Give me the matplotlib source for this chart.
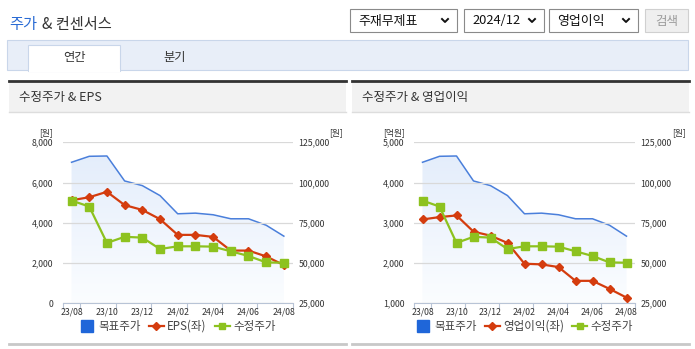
import numpy as np
import matplotlib
matplotlib.use("Agg")
import matplotlib.pyplot as plt
from matplotlib.patches import Rectangle, Polygon
from matplotlib.lines import Line2D
from matplotlib.colors import LinearSegmentedColormap

plt.rcParams['font.family'] = ['Noto Sans CJK KR', 'DejaVu Sans']

# data
months = ['23/08', '23/09', '23/10', '23/11', '23/12', '24/01', '24/02',
          '24/03', '24/04', '24/05', '24/06', '24/07', '24/08']
target_price = [112600, 116300, 116500, 101000, 98100, 91900, 80600,
                81000, 80000, 77500, 77500, 73500, 66700]
adj_price = [88800, 85100, 62500, 66300, 65800, 58700, 60400,
             60400, 60200, 57300, 54400, 50400, 50200]
eps = [5120, 5270, 5540, 4880, 4640, 4180, 3400, 3400, 3300, 2620, 2620, 2330, 1900]
op_profit = [3083, 3142, 3183, 2780, 2680, 2500, 1983, 1967, 1900, 1558, 1558, 1358, 1142]

W, H = 695, 349
BLUE = '#4a7fdb'
BLUE_SQ = '#1f66d9'
RED = '#d43c0e'
GREEN = '#8dc21f'
TXT = '#333333'

fig = plt.figure(figsize=(W / 100, H / 100), dpi=100)

# background / page decoration in pixel coords
bg = fig.add_axes([0, 0, 1, 1], zorder=-5)
bg.set_xlim(0, W)
bg.set_ylim(H, 0)
bg.axis('off')

bg.text(9, 25, '주가', color='#2a6bd4', fontsize=11, va='center', ha='left')
bg.text(42, 25, '& 컨센서스', color=TXT, fontsize=11, va='center', ha='left')

# dropdowns
for x0, x1, label in [(350, 457, '주재무제표'), (464, 544, '2024/12'), (549, 638, '영업이익')]:
    bg.add_patch(Rectangle((x0, 9), x1 - x0, 23, facecolor='white', edgecolor='#8a8a8a', lw=0.8))
    bg.text(x0 + 8, 21, label, fontsize=9.3, color='#111111', va='center', ha='left')
    ax_ = x1 - 12
    bg.plot([ax_ - 3, ax_, ax_ + 3], [19, 22, 19], color='#111111', lw=1.4)
bg.add_patch(Rectangle((645, 9), 43, 23, facecolor='#efefef', edgecolor='#d0d0d0', lw=0.8))
bg.text(666.5, 21, '검색', fontsize=9, color='#9a9a9a', va='center', ha='center')

# tab band
bg.add_patch(Rectangle((7, 40), 681, 30, facecolor='#e8eef8', edgecolor='#c9d6ea', lw=0.8))
bg.add_patch(Rectangle((28, 45), 92, 26, facecolor='white', edgecolor='#c9d6ea', lw=0.8))
bg.add_patch(Rectangle((28.5, 69), 91, 3, facecolor='white', edgecolor='none'))
bg.text(74, 57.5, '연간', fontsize=8.8, color=TXT, va='center', ha='center')
bg.text(175, 57.5, '분기', fontsize=8.8, color=TXT, va='center', ha='center')

# panels
for x0, x1, title in [(9, 346, '수정주가 & EPS'), (352, 689, '수정주가 & 영업이익')]:
    bg.add_patch(Rectangle((x0, 81), x1 - x0, 31, facecolor='#f2f2f2', edgecolor='none'))
    bg.plot([x0, x1], [81, 81], color='#333333', lw=2)
    bg.plot([x0, x1], [112, 112], color='#dddddd', lw=1)
    bg.plot([x0, x1], [343.5, 343.5], color='#c8c8c8', lw=2)
    bg.text(x0 + 10, 97, title, fontsize=9, color=TXT, va='center', ha='left')

cmap = LinearSegmentedColormap.from_list('g', ['#fbfdff', '#e2ecfb'])
x = np.arange(len(months))


def make_chart(left_px, width_px, left_vals, left_lim, left_ticks, left_unit, red_label, unit_pos):
    rect = [left_px / W, 1 - 303.3 / H, width_px / W, 161 / H]
    axb = fig.add_axes(rect)
    ax = axb.twinx()
    axf = axb.twinx()
    axb.set_zorder(1)
    ax.set_zorder(2)
    axf.set_zorder(3)

    # target price with gradient fill
    grad = np.linspace(0, 1, 256).reshape(-1, 1)
    im = axb.imshow(grad, extent=[-0.5, 12.5, 25000, 125000], origin='lower',
                    aspect='auto', cmap=cmap, zorder=1)
    poly = Polygon(list(zip(x, target_price)) + [(x[-1], 25000), (x[0], 25000)],
                   closed=True, transform=axb.transData, facecolor='none', edgecolor='none')
    axb.add_patch(poly)
    im.set_clip_path(poly)
    axb.plot(x, target_price, color=BLUE, lw=1.1, zorder=3)
    axb.set_xlim(-0.5, 12.5)
    axb.set_ylim(25000, 125000)

    # left series
    ax.plot(x, left_vals, color=RED, lw=1.6, marker='D', markersize=4.2, zorder=3)
    ax.set_ylim(*left_lim)
    ax.set_yticks(left_ticks)
    ax.yaxis.tick_left()
    ax.yaxis.set_label_position('left')
    ax.grid(axis='y', color='#d9d9d9', lw=0.9)
    ax.set_axisbelow(True)

    # adjusted price
    axf.plot(x, adj_price, color=GREEN, lw=1.6, marker='s', markersize=6, zorder=3)
    axf.set_ylim(25000, 125000)
    axf.set_yticks([25000, 50000, 75000, 100000, 125000])
    axf.set_yticklabels(['{:,}'.format(v) for v in [25000, 50000, 75000, 100000, 125000]])

    for a in (axb, ax, axf):
        for s in a.spines.values():
            s.set_visible(False)
        a.patch.set_visible(False)
        a.set_xlim(-0.5, 12.5)
    axb.spines['bottom'].set_visible(True)
    axb.spines['bottom'].set_color('#b8c4d6')

    ax.set_yticklabels(['{:,}'.format(v) for v in left_ticks])
    ax.tick_params(axis='y', length=0, pad=7, labelsize=6.3, labelcolor=TXT)
    axf.tick_params(axis='y', length=0, pad=4, labelsize=6.3, labelcolor=TXT)
    axb.tick_params(axis='y', left=False, labelleft=False, right=False, labelright=False)
    for a in (ax, axf):
        a.tick_params(axis='x', bottom=False, labelbottom=False)

    axb.set_xticks([-0.5, 0.5, 2.5, 4.5, 6.5, 8.5, 10.5, 12.5])
    axb.set_xticks(x[::2], minor=True)
    axb.set_xticklabels([])
    axb.set_xticklabels(months[::2], minor=True)
    axb.tick_params(axis='x', which='major', length=4, color='#b8c4d6', direction='out')
    axb.tick_params(axis='x', which='minor', length=0, pad=3, labelsize=6.3, labelcolor=TXT)

    # unit labels
    ax.text(unit_pos[0], 1.03, left_unit, transform=ax.transAxes, fontsize=6.3,
            color=TXT, ha='right', va='bottom')
    ax.text(unit_pos[1], 1.03, '[원]', transform=ax.transAxes, fontsize=6.3,
            color=TXT, ha='left', va='bottom')

    # legend
    handles = [
        Line2D([], [], color=BLUE_SQ, marker='s', linestyle='none', markersize=8),
        Line2D([], [], color=RED, marker='D', markersize=4, lw=1.6),
        Line2D([], [], color=GREEN, marker='s', markersize=5, lw=1.6),
    ]
    cx = (left_px + width_px / 2) / W
    fig.legend(handles, ['목표주가', red_label, '수정주가'], loc='center',
               bbox_to_anchor=(cx, 1 - 326.5 / H), ncol=3, frameon=False,
               fontsize=8.3, handlelength=1.3, handletextpad=0.3, columnspacing=0.7,
               labelcolor='#444444')


make_chart(62.7, 230, eps, (0, 8000), [0, 2000, 4000, 6000, 8000], '[원]', 'EPS(좌)', (-0.042, 1.158))
make_chart(414, 221, op_profit, (1000, 5000), [1000, 2000, 3000, 4000, 5000], '[억원]', '영업이익(좌)',
           (-0.04, 1.167))

fig.savefig('out.png', dpi=100)
